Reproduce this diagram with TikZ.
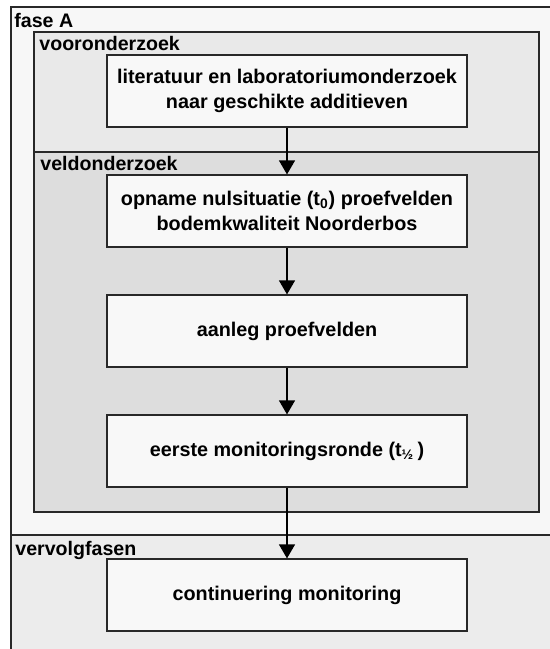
\documentclass[tikz,border=0pt]{standalone}
\usepackage{fontspec}
\setmainfont{Liberation Sans}
\usetikzlibrary{arrows.meta,positioning}
\definecolor{faseA-bg}{RGB}{247,247,247}
\definecolor{voor-bg}{RGB}{233,233,233}
\definecolor{veld-bg}{RGB}{221,221,221}
\definecolor{vervolg-bg}{RGB}{236,236,236}
\definecolor{box-bg}{RGB}{248,248,248}
\definecolor{G-line}{RGB}{40,40,40}
\tikzset{
  frame/.style={draw=G-line, line width=0.6pt},
  framelabel/.style={anchor=base west, inner sep=0pt, font=\fontsize{9.8}{12}\selectfont\bfseries},
  stepbox/.style={draw=G-line, fill=box-bg, line width=0.6pt, align=center, inner sep=3pt, minimum width=180pt, minimum height=36pt, font=\fontsize{9.9}{12.5}\selectfont\bfseries},
  arrow/.style={-{Triangle[length=7pt,width=8pt]}, line width=0.6pt, draw=black}
}
\begin{document}
\begin{tikzpicture}[x=0.5pt,y=-0.5pt]
\clip (0,0) rectangle (550,649);
\fill[white] (0,0) rectangle (550,649);
% fasen en onderzoeksblokken
\draw[frame, fill=faseA-bg] (11,7) rectangle (560,535);
\draw[frame, fill=vervolg-bg] (11,535) rectangle (560,660);
\draw[frame, fill=voor-bg] (34,32) rectangle (539,152);
\draw[frame, fill=veld-bg] (34,152) rectangle (539,512);
\node[framelabel] (faseA) at (14,27) {fase A};
\node[framelabel] (voor) at (39,50) {vooronderzoek};
\node[framelabel] (veld) at (40,170) {veldonderzoek};
\node[framelabel] (vervolg) at (15,555) {vervolgfasen};

\node[stepbox] (literatuur) at (287,91) {literatuur en laboratoriumonderzoek\\naar geschikte additieven};
\node[stepbox] (nulsituatie) at (287,211) {opname nulsituatie (t\textsubscript{0}) proefvelden\\bodemkwaliteit Noorderbos};
\node[stepbox] (aanleg) at (287,331) {aanleg proefvelden};
\node[stepbox] (monitoring) at (287,451) {eerste monitoringsronde (t\textsubscript{½}\,)};
\node[stepbox] (continuering) at (287,595) {continuering monitoring};

\draw[arrow] (literatuur) -- (nulsituatie);
\draw[arrow] (nulsituatie) -- (aanleg);
\draw[arrow] (aanleg) -- (monitoring);
\draw[arrow] (monitoring) -- (continuering);
\end{tikzpicture}
\end{document}
